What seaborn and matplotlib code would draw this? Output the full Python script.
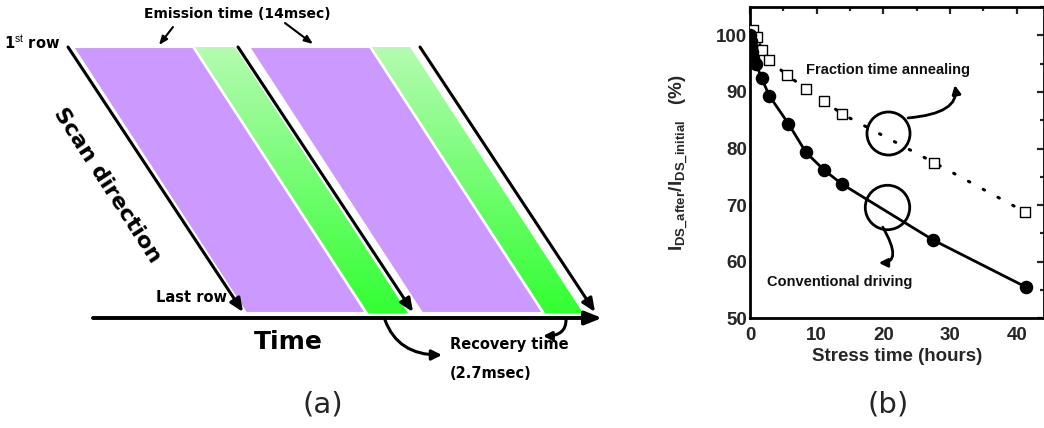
import numpy as np
import matplotlib
matplotlib.use("Agg")
import matplotlib.pyplot as plt
from matplotlib.patches import Polygon
from matplotlib.colors import LinearSegmentedColormap
import seaborn as sns

# (b) stress data
conv_hours = [0.0, 0.1, 0.2, 0.35, 0.5, 0.9, 1.75, 2.9, 5.75, 8.4, 11.1, 13.8, 27.5, 41.4]
conv_ratio = [100.0, 99.0, 98.0, 97.0, 96.0, 95.0, 92.4, 89.3, 84.4, 79.3, 76.2, 73.7, 63.8, 55.5]
frac_hours = [0.4, 1.1, 1.75, 2.9, 5.6, 8.4, 11.1, 13.8, 27.6, 41.2]
frac_ratio = [101.0, 99.7, 97.4, 95.6, 92.9, 90.6, 88.4, 86.1, 77.5, 68.8]
x_ticks = [0, 10, 20, 30, 40]
y_ticks = [50, 60, 70, 80, 90, 100]

# (a) timing diagram, in diagram units (x = time, y = row)
emission_start = [73, 249]
emission_end = [193, 370]
recovery_end = [235, 410]
scan_line_x = [68, 238, 420]
first_row, last_row = 47, 313
shear = 173

sns.set_style("white")
plt.rcParams['font.family'] = ['DejaVu Sans']
plt.rcParams['mathtext.fontset'] = 'custom'
plt.rcParams['mathtext.rm'] = 'Liberation Sans'
plt.rcParams['mathtext.bf'] = 'Liberation Sans:bold'

fig = plt.figure(figsize=(10.44, 4.28), dpi=100)

# ---------- (a) diagram ----------
ax_a = fig.add_axes([0, 0, 1, 1])
ax_a.set_axis_off()
purple = "#cc99ff"
green_cmap = LinearSegmentedColormap.from_list("gr", ["#b4fbb0", "#33ff33"])
grad = np.linspace(0, 1, 256).reshape(-1, 1)

for s, e, r in zip(emission_start, emission_end, recovery_end):
    pts = [(s, first_row), (e, first_row), (e + shear, last_row), (s + shear, last_row)]
    ax_a.add_patch(Polygon(pts, closed=True, facecolor=purple, edgecolor="white", lw=1.5, zorder=2))
    gpts = [(e + 2, first_row), (r, first_row), (r + shear, last_row), (e + 2 + shear, last_row)]
    gpoly = Polygon(gpts, closed=True, facecolor="none", edgecolor="none", zorder=2)
    ax_a.add_patch(gpoly)
    im = ax_a.imshow(grad, cmap=green_cmap, aspect="auto", zorder=2,
                     extent=(e, r + shear, last_row, first_row))
    im.set_clip_path(gpoly)

for x0 in scan_line_x:
    ax_a.annotate("", xy=(x0 + shear + 2, last_row - 1), xytext=(x0, first_row),
                  arrowprops=dict(arrowstyle="-|>,head_length=0.8,head_width=0.35",
                                  color="black", lw=2.2, shrinkA=0, shrinkB=0), zorder=3)

# time axis
ax_a.annotate("", xy=(602, 318), xytext=(93, 318),
              arrowprops=dict(arrowstyle="-|>,head_length=1.0,head_width=0.4",
                              color="black", lw=2.8, shrinkA=0, shrinkB=0), zorder=3)

bold = dict(fontweight="bold", color="black")
ax_a.text(237, 14, "Emission time (14msec)", ha="center", va="center", fontsize=10, **bold)
for (x1, y1), (x2, y2) in [((173, 27), (159, 45)), ((285, 23), (313, 44))]:
    ax_a.annotate("", xy=(x2, y2), xytext=(x1, y1),
                  arrowprops=dict(arrowstyle="-|>,head_length=0.5,head_width=0.2",
                                  color="black", lw=1.5, shrinkA=0, shrinkB=0))
ax_a.text(4, 43, r"1$^{\mathrm{st}}$ row", ha="left", va="center", fontsize=10.5, **bold)
ax_a.text(107, 185, "Scan direction", ha="center", va="center", rotation=-57,
          rotation_mode="anchor", fontsize=16, **bold)
ax_a.text(192, 298, "Last row", ha="center", va="center", fontsize=10.5, **bold)
ax_a.text(288, 342, "Time", ha="center", va="center", fontsize=18, **bold)
ax_a.text(450, 345, "Recovery time", ha="left", va="center", fontsize=10.5, **bold)
ax_a.text(450, 374, "(2.7msec)", ha="left", va="center", fontsize=10.5, **bold)
ax_a.annotate("", xy=(442, 355), xytext=(385, 320),
              arrowprops=dict(arrowstyle="-|>,head_length=0.6,head_width=0.3", color="black",
                              lw=2.2, shrinkA=0, shrinkB=0,
                              connectionstyle="angle3,angleA=-70,angleB=0"))
ax_a.annotate("", xy=(543, 336), xytext=(566, 320),
              arrowprops=dict(arrowstyle="-|>,head_length=0.5,head_width=0.25", color="black",
                              lw=2.2, shrinkA=0, shrinkB=0,
                              connectionstyle="angle3,angleA=-90,angleB=180"))

ax_a.text(323, 404, "(a)", ha="center", va="center", fontsize=21)
ax_a.text(888, 404, "(b)", ha="center", va="center", fontsize=21)
ax_a.set_xlim(0, 1044)
ax_a.set_ylim(428, 0)

# ---------- (b) plot ----------
ax = fig.add_axes([750 / 1044, (428 - 318.3) / 428, 293.5 / 1044, 311.3 / 428])
ax.patch.set_alpha(0)

sns.lineplot(x=frac_hours, y=frac_ratio, ax=ax, color="black", lw=2.2, sort=False,
             estimator=None, dashes=False, linestyle=(0, (0.5, 5)),
             solid_capstyle="round", dash_capstyle="round")
sns.lineplot(x=conv_hours, y=conv_ratio, ax=ax, color="black", lw=2, sort=False, estimator=None)
sns.scatterplot(x=frac_hours, y=frac_ratio, ax=ax, marker="s", s=60, facecolor="white",
                edgecolor="black", linewidth=1, zorder=4)
sns.scatterplot(x=conv_hours, y=conv_ratio, ax=ax, marker="o", s=95, color="black",
                edgecolor="black", linewidth=0, zorder=5)

# annotation circles and curly arrows
ax.plot([20.7], [82.7], marker="o", ms=31, mfc="none", mec="black", mew=2, zorder=6)
ax.plot([20.5], [69.7], marker="o", ms=32, mfc="none", mec="black", mew=2, zorder=6)
ax.annotate("", xy=(30.7, 91.2), xytext=(23.7, 85.4),
            arrowprops=dict(arrowstyle="-|>,head_length=0.5,head_width=0.25", color="black",
                            lw=2, shrinkA=0, shrinkB=0,
                            connectionstyle="angle3,angleA=5,angleB=100"))
ax.annotate("", xy=(19.3, 59.8), xytext=(19.9, 66.1),
            arrowprops=dict(arrowstyle="-|>,head_length=0.5,head_width=0.25", color="black",
                            lw=2, shrinkA=0, shrinkB=0,
                            connectionstyle="angle3,angleA=-60,angleB=180"))
ax.text(8.4, 93.9, "Fraction time annealing", ha="left", va="center", fontsize=10.5,
        family="Liberation Sans", fontweight="bold", color="#111111")
ax.text(2.5, 56.5, "Conventional driving", ha="left", va="center", fontsize=10.5,
        family="Liberation Sans", fontweight="bold", color="#111111")

ax.set_xlim(0, 44)
ax.set_ylim(50, 105)
ax.set_xticks(x_ticks)
ax.set_yticks(y_ticks)
ax.set_xticks([5, 15, 25, 35], minor=True)
ax.set_yticks([55, 65, 75, 85, 95, 105], minor=True)
ax.tick_params(which="both", direction="in", top=True, right=True, width=1.6)
ax.tick_params(which="major", length=5, labelsize=13.5, pad=2)
ax.tick_params(axis="x", which="major", pad=6)
ax.tick_params(which="minor", length=3)
for lab in ax.get_xticklabels() + ax.get_yticklabels():
    lab.set_family("Liberation Sans")
    lab.set_fontweight("bold")
for sp in ax.spines.values():
    sp.set_linewidth(2)
    sp.set_color("black")

ax.set_xlabel("Stress time (hours)", fontsize=13.5, family="Liberation Sans",
              fontweight="bold", labelpad=3)
ax.set_ylabel(r"$\mathbf{I}_{\mathbf{DS\_after}}\mathbf{/I}_{\mathbf{DS\_initial}}$   (%)",
              fontsize=13.5, family="Liberation Sans", fontweight="bold")
ax.yaxis.set_label_coords(-0.2, 0.5)

fig.savefig("out.png", dpi=100)
